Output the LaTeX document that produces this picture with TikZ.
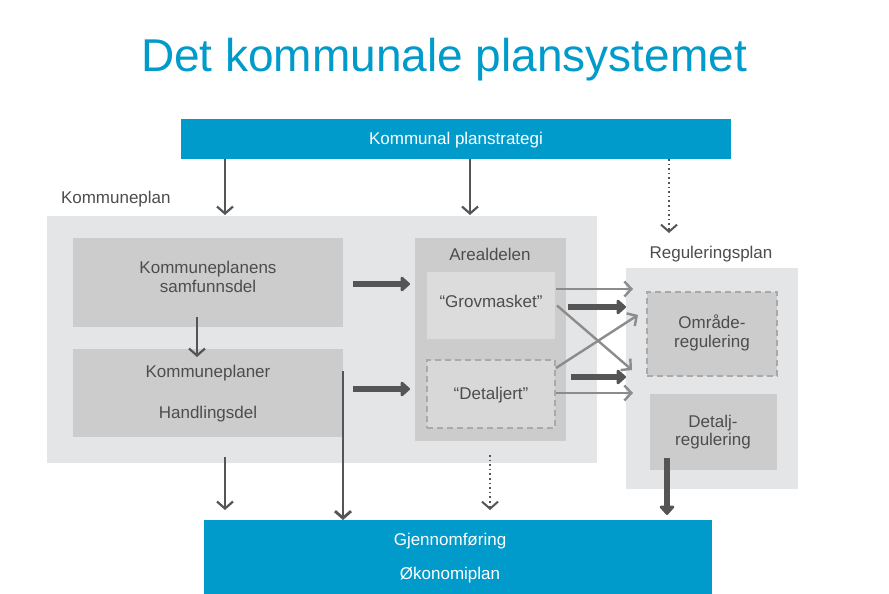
\documentclass[tikz,border=0pt]{standalone}
\usepackage{fontspec}
\setmainfont{Liberation Sans}
\usetikzlibrary{arrows.meta,calc}
\definecolor{pblue}{HTML}{009BCB}
\definecolor{bgray}{HTML}{E4E5E6}
\definecolor{mgray}{HTML}{CCCCCC}
\definecolor{lgray}{HTML}{DCDCDC}
\definecolor{dgray}{HTML}{D8D8D8}
\definecolor{dashgray}{HTML}{A9A9A9}
\definecolor{txtgray}{HTML}{4D4D4D}
\definecolor{arrdark}{HTML}{555555}
\definecolor{arrlight}{HTML}{8C8C8C}
\begin{document}
\begin{tikzpicture}[x=1pt,y=-1pt,
  box/.style={rectangle,inner sep=0pt,outer sep=0pt,draw=none},
  txt/.style={inner sep=0pt,outer sep=0pt,anchor=base,text=txtgray,font=\fontsize{17}{20}\selectfont},
  wtxt/.style={txt,text=white},
  dashbox/.style={box,draw=dashgray,line width=2pt,dash pattern=on 6pt off 4pt},
  thinarr/.style={draw=arrdark,line width=2.2pt,-{Straight Barb[length=7pt,width=16pt]}},
  dotarr/.style={draw=arrdark,line width=2pt,dash pattern=on 1.6pt off 3pt,-{Straight Barb[length=7pt,width=16pt]}},
  thickarr/.style={draw=arrdark,line width=5.5pt,-{Triangle[length=10pt,width=17pt,round]}},
  greyarr/.style={draw=arrlight,line width=2.4pt,-{Straight Barb[length=7pt,width=15pt]}}]
\useasboundingbox (0,0) rectangle (889,594);
\fill[white] (0,0) rectangle (889,594);

% title
\node[txt,text=pblue,font=\fontsize{46}{50}\selectfont] (title) at (444,72) {Det kommunale plansystemet};

% top bar
\node[box,fill=pblue,minimum width=550pt,minimum height=40pt] (top) at (456,139) {};
\node[wtxt] (toptxt) at (456,144) {Kommunal planstrategi};

% Kommuneplan
\node[txt,anchor=base west] (kplbl) at (61,203) {Kommuneplan};
\node[box,fill=bgray,minimum width=550pt,minimum height=247pt] (kp) at (322,339.5) {};
\node[box,fill=mgray,minimum width=270pt,minimum height=89pt] (samf) at (208,282.5) {};
\node[txt] (samf1) at (208,273) {Kommuneplanens};
\node[txt] (samf2) at (208,292) {samfunnsdel};
\node[box,fill=mgray,minimum width=270pt,minimum height=88pt] (handl) at (208,393) {};
\node[txt] (handl1) at (208,377) {Kommuneplaner};
\node[txt] (handl2) at (208,418) {Handlingsdel};

% Arealdelen
\node[box,fill=mgray,minimum width=151pt,minimum height=203pt] (areal) at (490.5,339.5) {};
\node[txt] (areallbl) at (490,260) {Arealdelen};
\node[box,fill=lgray,minimum width=128pt,minimum height=67pt] (grov) at (491,305.5) {};
\node[txt] (grovtxt) at (491,307) {“Grovmasket”};
\node[dashbox,fill=dgray,minimum width=128pt,minimum height=68pt] (detj) at (491,394) {};
\node[txt] (detjtxt) at (491,399) {“Detaljert”};

% Reguleringsplan
\node[txt] (reglbl) at (711,258) {Reguleringsplan};
\node[box,fill=bgray,minimum width=172pt,minimum height=221pt] (reg) at (712,378.5) {};
\node[dashbox,fill=mgray,minimum width=130pt,minimum height=84pt] (omr) at (712,334) {};
\node[txt] (omr1) at (712,328) {Område-};
\node[txt] (omr2) at (712,347) {regulering};
\node[box,fill=mgray,minimum width=127pt,minimum height=76pt] (detr) at (713.5,432) {};
\node[txt] (detr1) at (713,427) {Detalj-};
\node[txt] (detr2) at (713,445) {regulering};

% bottom bar
\node[box,fill=pblue,minimum width=508pt,minimum height=74pt] (bottom) at (458,557) {};
\node[wtxt] (bot1) at (450,545) {Gjennomføring};
\node[wtxt] (bot2) at (450,579) {Økonomiplan};

\coordinate (regtop) at (669,233);

% arrows from top bar
\draw[thinarr] (225,0 |- top.south) -- ($(225,0 |- kp.north)+(0,-1)$);
\draw[thinarr] (470,0 |- top.south) -- ($(470,0 |- kp.north)+(0,-1)$);
\draw[dotarr] (669,0 |- top.south) -- (regtop);

% inside kommuneplan
\draw[thinarr] ($(197,0 |- samf.south)+(0,-10)$) -- ($(197,0 |- handl.north)+(0,8)$);
\draw[thickarr] ($(samf.east |- 0,284)+(10,0)$) -- ($(areal.west |- 0,284)+(-5,0)$);
\draw[thickarr] ($(handl.east |- 0,389)+(10,0)$) -- ($(areal.west |- 0,389)+(-5,0)$);
\draw[thinarr,line width=2.8pt] (handl.east |- 0,371) -- (handl.east |- bottom.north);

% arealdel to regulering
\draw[greyarr] ($(grov.east |- 0,289)+(1,0)$) -- ($(reg.west |- 0,289)+(7,0)$);
\draw[greyarr] ($(grov.east)+(2,0)$) -- ($(reg.west |- 0,370)+(6,0)$);
\draw[greyarr] ($(detj.east |- 0,368)+(1,0)$) -- ($(reg.west |- 0,315)+(12,0)$);
\draw[greyarr] ($(detj.east |- 0,393)+(1,0)$) -- ($(reg.west |- 0,393)+(7,0)$);
\draw[thickarr] ($(areal.east |- 0,307)+(2,0)$) -- (reg.west |- 0,307);
\draw[thickarr] ($(areal.east |- 0,377)+(5,0)$) -- (reg.west |- 0,377);

% down to bottom bar
\draw[thinarr] ($(225,0 |- kp.south)+(0,-6)$) -- ($(225,0 |- bottom.north)+(0,-10)$);
\draw[dotarr] ($(490,0 |- kp.south)+(0,-8)$) -- ($(490,0 |- bottom.north)+(0,-10)$);
\draw[thickarr] ($(667,0 |- detr.south)+(0,-12)$) -- ($(667,0 |- bottom.north)+(0,-5)$);
\end{tikzpicture}
\end{document}
